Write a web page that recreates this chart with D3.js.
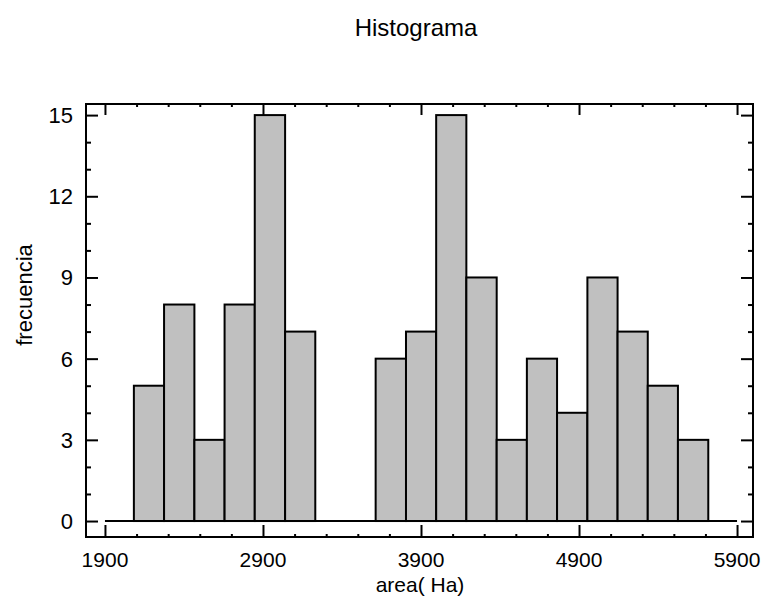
<!DOCTYPE html>
<html>
<head>
<meta charset="utf-8">
<script src="https://cdn.jsdelivr.net/npm/d3@7"></script>
<style>
  body { margin: 0; background: #fff; }
  text { font-family: "Liberation Sans", Arial, sans-serif; fill: #000; }
</style>
</head>
<body>
<div id="chart"></div>
<script>
// histogram classes (lower/upper limits) and frequencies
const binEdges = [2083, 2274, 2466, 2657, 2848, 3040, 3231, 3422, 3613, 3805,
                  3996, 4187, 4379, 4570, 4761, 4953, 5144, 5335, 5526, 5718];
const freq = [5, 8, 3, 8, 15, 7, 0, 0, 6, 7, 15, 9, 3, 6, 4, 9, 7, 5, 3];
const xTicks = [1900, 2900, 3900, 4900, 5900];
const yTicks = [0, 3, 6, 9, 12, 15];

histogram();

function histogram() {
    let W = 762, H = 603;
    let frame = { left: 86, top: 104, right: 753, bottom: 537 };

    let svg = d3.select("#chart").append("svg")
        .attr("width", W)
        .attr("height", H);

    let x = d3.scaleLinear()
        .domain([1780, 6001])
        .range([frame.left, frame.right]);
    let y = d3.scaleLinear()
        .domain([-0.59, 15.41])
        .range([frame.bottom, frame.top]);

    let bins = freq.map((f, i) => ({ x0: binEdges[i], x1: binEdges[i + 1], count: f }));

    // bars
    svg.selectAll(".bar")
        .data(bins.filter(d => d.count > 0))
        .enter()
        .append("rect")
        .attr("class", "bar")
        .attr("x", d => x(d.x0))
        .attr("width", d => x(d.x1) - x(d.x0))
        .attr("y", d => y(d.count))
        .attr("height", d => y(0) - y(d.count))
        .attr("fill", "#c0c0c0")
        .attr("stroke", "#000")
        .attr("stroke-width", 2);

    // zero line
    svg.append("line")
        .attr("x1", x(1900)).attr("x2", x(5900))
        .attr("y1", y(0)).attr("y2", y(0))
        .attr("stroke", "#000")
        .attr("stroke-width", 2);

    let minorX = d3.range(1900, 5901, 200).filter(v => !xTicks.includes(v));
    let minorY = d3.range(0, 16, 1).filter(v => !yTicks.includes(v));

    function axis(gen, scale, major, minor, tx, ty, majLen, minLen) {
        let g = svg.append("g").attr("transform", "translate(" + tx + "," + ty + ")");
        g.append("g").call(gen(scale).tickValues(minor).tickSize(-minLen).tickFormat(""));
        g.append("g").call(gen(scale).tickValues(major).tickSize(-majLen).tickFormat(""));
        g.selectAll(".domain").remove();
        g.selectAll("line").attr("stroke", "#000").attr("stroke-width", 2);
        return g;
    }

    axis(d3.axisBottom, x, xTicks, minorX, 0, frame.bottom, 12, 3);
    axis(d3.axisTop, x, xTicks, minorX, 0, frame.top, 11, 3);
    axis(d3.axisLeft, y, yTicks, minorY, frame.left, 0, 12, 5);
    axis(d3.axisRight, y, yTicks, minorY, frame.right, 0, 12, 5);

    // frame
    svg.append("rect")
        .attr("x", frame.left).attr("y", frame.top)
        .attr("width", frame.right - frame.left)
        .attr("height", frame.bottom - frame.top)
        .attr("fill", "none")
        .attr("stroke", "#000")
        .attr("stroke-width", 2);

    // tick labels
    svg.selectAll(".xlab")
        .data(xTicks)
        .enter()
        .append("text")
        .attr("x", d => x(d))
        .attr("y", 567)
        .attr("text-anchor", "middle")
        .style("font-size", "21px")
        .text(d => d);

    svg.selectAll(".ylab")
        .data(yTicks)
        .enter()
        .append("text")
        .attr("x", 73)
        .attr("y", d => y(d) + 8)
        .attr("text-anchor", "end")
        .style("font-size", "22px")
        .text(d => d);

    // titles
    svg.append("text")
        .attr("x", 416)
        .attr("y", 36)
        .attr("text-anchor", "middle")
        .style("font-size", "24px")
        .text("Histograma");

    svg.append("text")
        .attr("x", 420)
        .attr("y", 592)
        .attr("text-anchor", "middle")
        .style("font-size", "21px")
        .text("area( Ha)");

    svg.append("text")
        .attr("transform", "translate(32,295) rotate(-90)")
        .attr("text-anchor", "middle")
        .style("font-size", "22px")
        .text("frecuencia");
}
</script>
</body>
</html>
